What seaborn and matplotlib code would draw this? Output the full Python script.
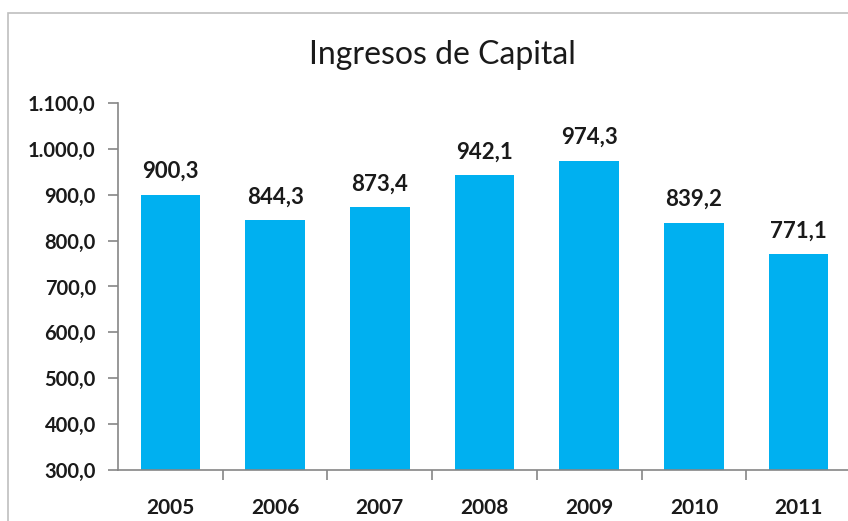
import matplotlib
matplotlib.use("Agg")
import matplotlib.pyplot as plt
import seaborn as sns
import pandas as pd
from matplotlib.ticker import FuncFormatter, FixedLocator, MultipleLocator
from matplotlib.patches import Rectangle

years = ["2005", "2006", "2007", "2008", "2009", "2010", "2011"]
values = [900.3, 844.3, 873.4, 942.1, 974.3, 839.2, 771.1]
title = "Ingresos de Capital"

sns.set_theme(style="white")
plt.rcParams['font.family'] = ['Lato', 'DejaVu Sans']

df = pd.DataFrame({"year": years, "value": values})

fig = plt.figure(figsize=(8.48, 5.21), dpi=100)
W, H = 848, 521
ax = fig.add_axes([118 / W, 51 / H, (851 - 118) / W, (418 - 51) / H])

sns.barplot(data=df, x="year", y="value", color="#00B0F0", saturation=1,
            width=0.57, ax=ax, edgecolor="none")

def es_fmt(v, pos=None):
    s = f"{v:,.1f}"
    return s.replace(",", "X").replace(".", ",").replace("X", ".")

ax.set_ylim(300, 1100)
ax.set_xlim(-0.5, len(years) - 0.5)
ax.yaxis.set_major_locator(MultipleLocator(100))
ax.yaxis.set_major_formatter(FuncFormatter(es_fmt))
ax.set_xlabel("")
ax.set_ylabel("")

for side in ["top", "right"]:
    ax.spines[side].set_visible(False)
for side in ["left", "bottom"]:
    ax.spines[side].set_color("#868686")
    ax.spines[side].set_linewidth(1.2)

ax.tick_params(axis="y", which="major", direction="out", length=7, width=1.2,
               color="#868686", labelsize=14.5, pad=9, left=True)
ax.tick_params(axis="x", which="major", length=0, labelsize=15, pad=20)
ax.xaxis.set_minor_locator(FixedLocator([i + 0.5 for i in range(len(years) - 1)]))
ax.tick_params(axis="x", which="minor", direction="out", length=7, width=1.2,
               color="#868686", bottom=True)
for lbl in ax.get_yticklabels() + ax.get_xticklabels():
    lbl.set_fontweight("bold")
    lbl.set_color("#1a1a1a")

for i, v in enumerate(values):
    ax.annotate(f"{v:.1f}".replace(".", ","), (i, v), xytext=(0, 9),
                textcoords="offset points", ha="center", va="bottom",
                fontsize=16, fontweight="bold", color="#1a1a1a")

fig.text(442 / W, 1 - 55 / H, title, ha="center", va="center", fontsize=23,
         color="#1a1a1a")

fig.patches.append(Rectangle((8 / W, -0.1), 1.2, 1 - 13 / H + 0.1,
                             transform=fig.transFigure, fill=False,
                             edgecolor="#BFBFBF", linewidth=1.2))

fig.savefig("out.png", dpi=100)
